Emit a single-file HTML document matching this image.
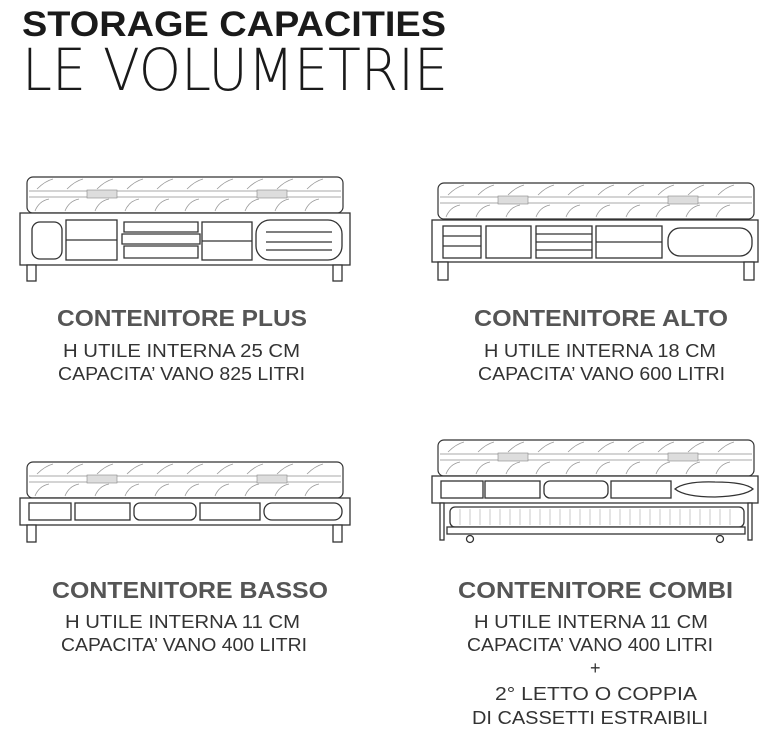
<!DOCTYPE html>
<html><head><meta charset="utf-8"><style>
html,body{margin:0;padding:0;background:#fff;width:777px;height:742px;overflow:hidden}
svg{display:block}
.t{font-family:"Liberation Sans",sans-serif}
.h{font-weight:bold;font-size:23px;fill:#555}
.s{font-size:18px;fill:#333}
</style></head><body>
<svg width="777" height="742" viewBox="0 0 777 742" xmlns="http://www.w3.org/2000/svg">
<defs>
<g id="matt">
<rect x="0" y="0" width="316" height="36" rx="6" fill="#fff" stroke="#333" stroke-width="1.2"/>
<line x1="2" y1="14" x2="314" y2="14" stroke="#aaa"/><line x1="2" y1="20" x2="314" y2="20" stroke="#aaa"/>
<path d="M10 12 q8 -8 16 -10 M40 12 q8 -8 16 -10 M70 12 q8 -8 16 -10 M100 12 q8 -8 16 -10 M130 12 q8 -8 16 -10 M160 12 q8 -8 16 -10 M190 12 q8 -8 16 -10 M220 12 q8 -8 16 -10 M250 12 q8 -8 16 -10 M280 12 q8 -8 16 -10 M8 34 q4 -10 14 -12 M38 34 q4 -10 14 -12 M68 34 q4 -10 14 -12 M98 34 q4 -10 14 -12 M128 34 q4 -10 14 -12 M158 34 q4 -10 14 -12 M188 34 q4 -10 14 -12 M218 34 q4 -10 14 -12 M248 34 q4 -10 14 -12 M278 34 q4 -10 14 -12" fill="none" stroke="#999" stroke-width="0.8"/>
<rect x="60" y="13" width="30" height="8" fill="#ddd" stroke="#888" stroke-width="0.6"/>
<rect x="230" y="13" width="30" height="8" fill="#ddd" stroke="#888" stroke-width="0.6"/>
</g>
</defs>
<text class="t" x="22" y="36" font-size="35" font-weight="bold" fill="#1a1a1a" textLength="424" lengthAdjust="spacingAndGlyphs">STORAGE CAPACITIES</text>
<text x="22" y="90" font-family="DejaVu Sans ExtraLight, DejaVu Sans, sans-serif" font-weight="200" font-size="58" fill="#1a1a1a" textLength="426" lengthAdjust="spacingAndGlyphs">LE VOLUMETRIE</text>

<!-- Bed 1 PLUS -->
<use href="#matt" x="27" y="177"/>
<g fill="#fff" stroke="#333" stroke-width="1.3">
<rect x="20" y="213" width="330" height="52"/>
<rect x="27" y="265" width="9" height="16"/><rect x="333" y="265" width="9" height="16"/>
<rect x="32" y="222" width="30" height="37" rx="8"/>
<rect x="66" y="220" width="51" height="40"/><line x1="66" y1="240" x2="117" y2="240"/>
<path d="M124 222 h74 v10 h-74 z M122 234 h78 v10 h-78 z M124 246 h74 v12 h-74 z"/>
<rect x="202" y="222" width="50" height="38"/><line x1="202" y1="241" x2="252" y2="241"/>
<rect x="256" y="220" width="86" height="40" rx="14"/>
<path d="M266 232 h66 M266 242 h66 M266 250 h66" fill="none"/>
</g>

<!-- Bed 2 ALTO -->
<use href="#matt" x="438" y="183"/>
<g fill="#fff" stroke="#333" stroke-width="1.3">
<rect x="432" y="220" width="326" height="42"/>
<rect x="438" y="262" width="10" height="18"/><rect x="744" y="262" width="10" height="18"/>
<rect x="443" y="226" width="38" height="32"/><path d="M443 236 h38 M443 246 h38" fill="none"/>
<rect x="486" y="226" width="45" height="32"/>
<rect x="536" y="226" width="56" height="32"/><path d="M536 234 h56 M536 242 h56 M536 250 h56" fill="none"/>
<rect x="596" y="226" width="66" height="32"/><line x1="596" y1="242" x2="662" y2="242"/>
<rect x="668" y="228" width="84" height="28" rx="12"/>
</g>

<!-- Bed 3 BASSO -->
<use href="#matt" x="27" y="462"/>
<g fill="#fff" stroke="#333" stroke-width="1.3">
<rect x="20" y="498" width="330" height="27"/>
<rect x="27" y="525" width="9" height="17"/><rect x="333" y="525" width="9" height="17"/>
<rect x="29" y="503" width="42" height="17"/>
<rect x="75" y="503" width="55" height="17"/>
<rect x="134" y="503" width="62" height="17" rx="6"/>
<rect x="200" y="503" width="60" height="17"/>
<rect x="264" y="503" width="78" height="17" rx="8"/>
</g>

<!-- Bed 4 COMBI -->
<use href="#matt" x="438" y="440"/>
<g fill="#fff" stroke="#333" stroke-width="1.3">
<rect x="432" y="476" width="326" height="27"/>
<rect x="440" y="503" width="4" height="37"/><rect x="748" y="503" width="4" height="37"/>
<rect x="450" y="507" width="294" height="20" rx="5"/>
<rect x="447" y="527" width="298" height="7"/>
<circle cx="470" cy="539" r="3.5"/><circle cx="720" cy="539" r="3.5"/>
<rect x="441" y="481" width="42" height="17"/>
<rect x="485" y="481" width="55" height="17"/>
<rect x="544" y="481" width="64" height="17" rx="6"/>
<rect x="611" y="481" width="60" height="17"/>
<path d="M675 489 q10 -8 40 -7 q30 0 38 7 q-8 7 -38 8 q-30 0 -40 -8z"/>
</g>
<path d="M460 509 v16 M470 509 v16 M480 509 v16 M490 509 v16 M500 509 v16 M510 509 v16 M520 509 v16 M530 509 v16 M540 509 v16 M550 509 v16 M560 509 v16 M570 509 v16 M580 509 v16 M590 509 v16 M600 509 v16 M610 509 v16 M620 509 v16 M630 509 v16 M640 509 v16 M650 509 v16 M660 509 v16 M670 509 v16 M680 509 v16 M690 509 v16 M700 509 v16 M710 509 v16 M720 509 v16 M730 509 v16" stroke="#bbb" stroke-width="0.8"/>

<g class="t">
<text class="h t" x="57" y="326" textLength="250" lengthAdjust="spacingAndGlyphs">CONTENITORE PLUS</text>
<text class="s t" x="63" y="357" textLength="237" lengthAdjust="spacingAndGlyphs">H UTILE INTERNA  25 CM</text>
<text class="s t" x="58" y="380" textLength="247" lengthAdjust="spacingAndGlyphs">CAPACITA’ VANO 825 LITRI</text>
<text class="h t" x="474" y="326" textLength="254" lengthAdjust="spacingAndGlyphs">CONTENITORE ALTO</text>
<text class="s t" x="484" y="357" textLength="232" lengthAdjust="spacingAndGlyphs">H UTILE INTERNA  18 CM</text>
<text class="s t" x="478" y="380" textLength="247" lengthAdjust="spacingAndGlyphs">CAPACITA’ VANO 600 LITRI</text>
<text class="h t" x="52" y="598" textLength="276" lengthAdjust="spacingAndGlyphs">CONTENITORE BASSO</text>
<text class="s t" x="65" y="628" textLength="235" lengthAdjust="spacingAndGlyphs">H UTILE INTERNA  11 CM</text>
<text class="s t" x="61" y="651" textLength="246" lengthAdjust="spacingAndGlyphs">CAPACITA’ VANO 400 LITRI</text>
<text class="h t" x="458" y="598" textLength="275" lengthAdjust="spacingAndGlyphs">CONTENITORE COMBI</text>
<text class="s t" x="474" y="628" textLength="234" lengthAdjust="spacingAndGlyphs">H UTILE INTERNA  11 CM</text>
<text class="s t" x="467" y="651" textLength="246" lengthAdjust="spacingAndGlyphs">CAPACITA’ VANO 400 LITRI</text>
<text class="s t" x="590" y="674">+</text>
<text class="s t" x="495" y="700" textLength="202" lengthAdjust="spacingAndGlyphs">2° LETTO O COPPIA</text>
<text class="s t" x="472" y="724" textLength="236" lengthAdjust="spacingAndGlyphs">DI CASSETTI ESTRAIBILI</text>
</g>
</svg>
</body></html>
